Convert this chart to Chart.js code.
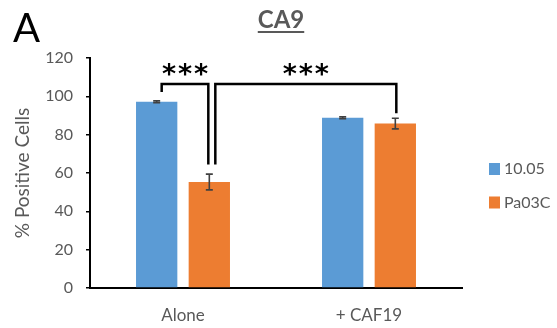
<!DOCTYPE html>
<html>
<head>
<meta charset="utf-8">
<script src="https://cdn.jsdelivr.net/npm/chart.js@4.4.1/dist/chart.umd.min.js"></script>
<style>
  html, body { margin: 0; padding: 0; background: #fff; }
  #wrap { width: 557px; height: 328px; }
</style>
</head>
<body>
<div id="wrap"><canvas id="c" width="557" height="328"></canvas></div>
<script>
// CA9 positivity by cell line, alone vs co-cultured with CAF19
const categories = ['Alone', '+ CAF19'];
const seriesNames = ['10.05', 'Pa03C'];
const values1005 = [97.2, 88.8];
const valuesPa03C = [55.3, 85.8];
const err1005 = [0.5, 0.5];
const errPa03C = [4.1, 2.8];
const yTicks = [0, 20, 40, 60, 80, 100, 120];

// significance brackets: [dataset, category] endpoints, bracket level and leg ends (data units)
const brackets = [
  { from: [0, 0], to: [1, 0], level: 106.5, legEnds: [102.3, 64.5], text: '***' },
  { from: [1, 0], to: [1, 1], level: 106.5, legEnds: [64.5, 91.2], text: '***' }
];

const GRAY = '#595959';
const FONT = 'Lato';
const colors = ['#5B9BD5', '#ED7D31'];

const annotations = {
  id: 'annotations',
  afterDatasetsDraw(chart) {
    const ctx = chart.ctx;
    const y = chart.scales.y;
    const errs = [err1005, errPa03C];
    const vals = [values1005, valuesPa03C];

    // error bars
    ctx.save();
    ctx.strokeStyle = '#404040';
    ctx.lineWidth = 1.6;
    chart.data.datasets.forEach((ds, di) => {
      chart.getDatasetMeta(di).data.forEach((bar, i) => {
        const v = vals[di][i], e = errs[di][i];
        const yt = y.getPixelForValue(v + e), yb = y.getPixelForValue(v - e);
        ctx.beginPath();
        ctx.moveTo(bar.x, yt); ctx.lineTo(bar.x, yb);
        ctx.moveTo(bar.x - 3.5, yt); ctx.lineTo(bar.x + 3.5, yt);
        ctx.moveTo(bar.x - 3.5, yb); ctx.lineTo(bar.x + 3.5, yb);
        ctx.stroke();
      });
    });
    ctx.restore();

    // brackets with stars
    const legShift = [[5, -1], [6, 1]];
    ctx.save();
    ctx.strokeStyle = '#000';
    ctx.lineWidth = 2.5;
    ctx.lineCap = 'butt';
    brackets.forEach((b, bi) => {
      const x1 = chart.getDatasetMeta(b.from[0]).data[b.from[1]].x + legShift[bi][0];
      const x2 = chart.getDatasetMeta(b.to[0]).data[b.to[1]].x + legShift[bi][1];
      const yl = y.getPixelForValue(b.level);
      ctx.beginPath();
      ctx.moveTo(x1, y.getPixelForValue(b.legEnds[0]));
      ctx.lineTo(x1, yl);
      ctx.lineTo(x2, yl);
      ctx.lineTo(x2, y.getPixelForValue(b.legEnds[1]));
      ctx.stroke();
      ctx.fillStyle = '#000';
      ctx.font = 'bold 27px "DejaVu Sans"';
      ctx.textAlign = 'center';
      ctx.textBaseline = 'alphabetic';
      const cx = (x1 + x2) / 2;
      for (let k = -1; k <= 1; k++) ctx.fillText('*', cx + k * 16, yl - 1);
    });
    ctx.restore();

    // panel letter and underlined title
    ctx.save();
    ctx.fillStyle = '#000';
    ctx.font = '40px ' + FONT;
    ctx.textAlign = 'left';
    ctx.textBaseline = 'alphabetic';
    ctx.fillText('A', 13, 42);
    ctx.fillStyle = GRAY;
    ctx.font = 'bold 24px ' + FONT;
    ctx.textAlign = 'center';
    ctx.fillText('CA9', 281, 28);
    const w = ctx.measureText('CA9').width;
    ctx.fillRect(281 - w / 2, 31, w, 2);
    ctx.restore();

    // legend
    ctx.save();
    ctx.font = '16px ' + FONT;
    ctx.textBaseline = 'middle';
    ctx.textAlign = 'left';
    chart.data.datasets.forEach((ds, di) => {
      const cy = 169 + di * 33.5;
      ctx.fillStyle = ds.backgroundColor;
      ctx.fillRect(489, cy - 6, 11, 12);
      ctx.fillStyle = GRAY;
      ctx.fillText(ds.label, 504, cy);
    });
    ctx.restore();
  }
};

new Chart(document.getElementById('c'), {
  type: 'bar',
  data: {
    labels: categories,
    datasets: [
      { label: seriesNames[0], data: values1005, backgroundColor: colors[0] },
      { label: seriesNames[1], data: valuesPa03C, backgroundColor: colors[1] }
    ]
  },
  options: {
    responsive: false,
    animation: false,
    devicePixelRatio: 1,
    datasets: { bar: { categoryPercentage: 0.566, barPercentage: 0.785 } },
    layout: { padding: { left: 0, top: 58, right: 95, bottom: 0 } },
    plugins: { legend: { display: false }, tooltip: { enabled: false } },
    scales: {
      x: {
        grid: { display: false },
        border: { color: '#000', width: 2 },
        ticks: { color: GRAY, font: { family: FONT, size: 17 }, padding: 9 },
        afterFit(s) { s.height = 40; }
      },
      y: {
        min: 0, max: 120,
        afterBuildTicks(s) { s.ticks = yTicks.map(v => ({ value: v })); },
        grid: { drawOnChartArea: false, drawTicks: true, tickLength: 4, color: '#000', lineWidth: 1.5 },
        border: { color: '#000', width: 2 },
        ticks: { color: GRAY, font: { family: FONT, size: 16 }, padding: 13 },
        title: { display: true, text: '% Positive Cells', color: GRAY, font: { family: FONT, size: 19 }, padding: { top: 11, bottom: 0 } },
        afterFit(s) { s.width = 90; }
      }
    }
  },
  plugins: [annotations]
});
</script>
</body>
</html>
